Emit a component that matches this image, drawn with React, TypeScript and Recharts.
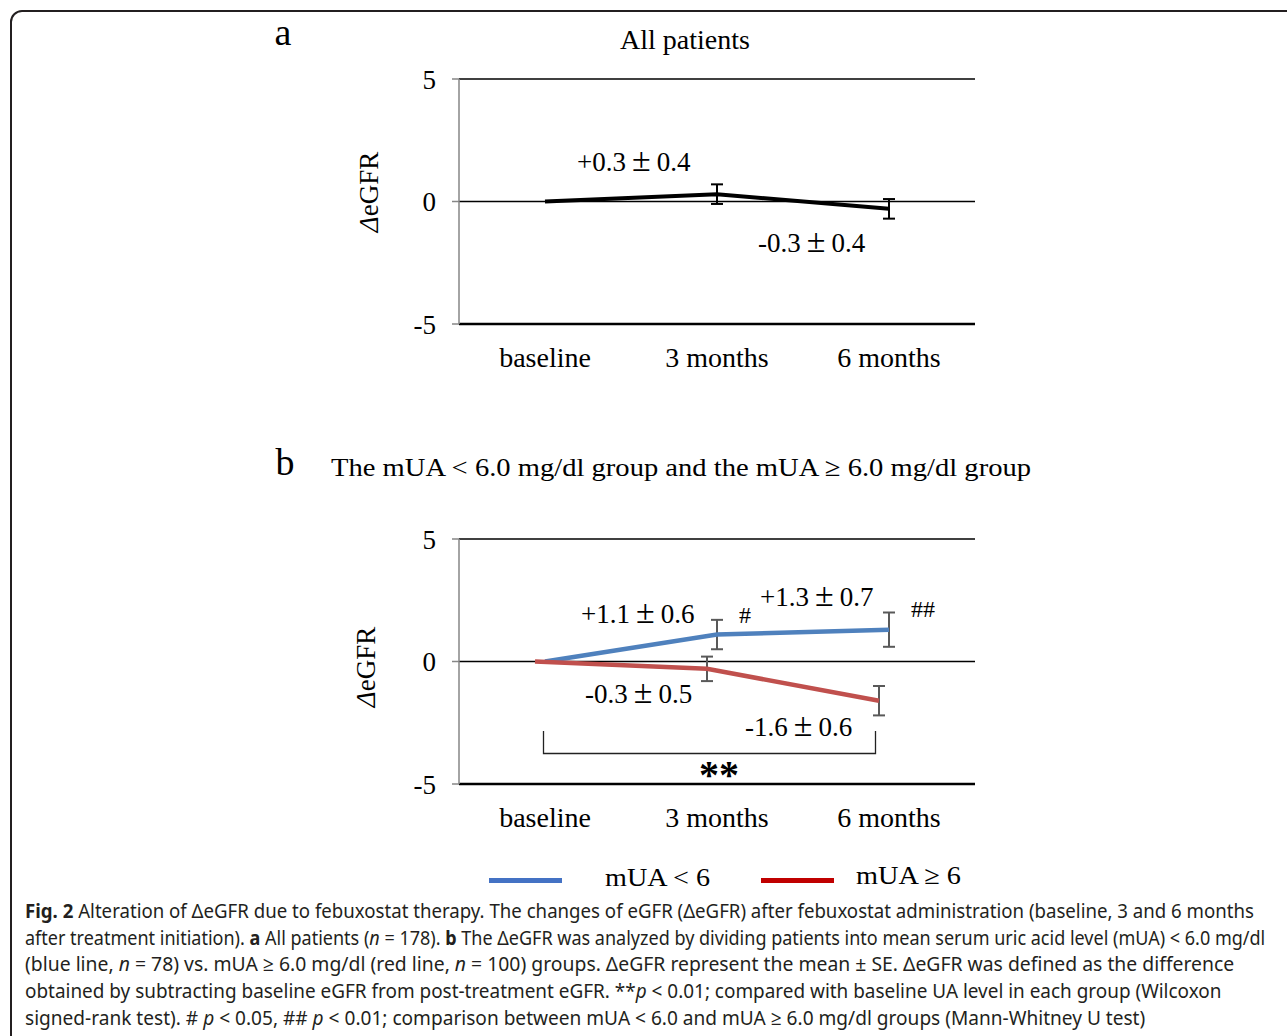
import { useLayoutEffect, useRef, useState } from "react";
import { LineChart, Line, XAxis, YAxis, CartesianGrid, ErrorBar, ReferenceLine } from "recharts";

const categories = ["baseline", "3 months", "6 months"];
const yTicks = [-5, 0, 5];

// a: all patients
const allMean = [0, 0.3, -0.3];
const allSe = [null, 0.4, 0.4];

// b: mUA < 6 (blue) and mUA >= 6 (red)
const lowMean = [0, 1.1, 1.3];
const lowSe = [null, 0.6, 0.7];
const highMean = [0, -0.3, -1.6];
const highSe = [null, 0.5, 0.6];

const rows = categories.map((name, i) => ({
  name,
  all: allMean[i],
  allSe: allSe[i],
  low: lowMean[i],
  lowSe: lowSe[i],
  high: highMean[i],
  highSe: highSe[i],
}));

const SERIF = '"Liberation Serif", "Times New Roman", serif';
const SANS = '"Noto Sans", "Open Sans", sans-serif';
const TEXT = "#231f20";

const signed = (v: number) => `${v > 0 ? "+" : ""}${v.toFixed(1)}`;

const xTick = { fill: "#000", fontSize: 28, fontFamily: SERIF };
const yTick = { fill: "#000", fontSize: 27, fontFamily: SERIF };
const chartMargin = { top: 79, right: 312, bottom: 36, left: 399 };

const ValueLabel = ({ x, y, mean, se }: { x: number; y: number; mean: number; se: number }) => (
  <text x={x} y={y} fontSize={27} fontFamily={SERIF} fill="#000">
    <tspan>{signed(mean)}</tspan>
    <tspan dx={6} fontSize={34}>±</tspan>
    <tspan dx={6}>{se.toFixed(1)}</tspan>
  </text>
);

const YLabel = ({ x, y }: { x: number; y: number }) => (
  <text transform={`translate(${x},${y}) rotate(-90)`} textAnchor="middle" fontSize={27} fontFamily={SERIF} fill="#000">
    <tspan fontStyle="italic">Δ</tspan>eGFR
  </text>
);

const captionLines = [
  { w: 1229, parts: [["b", "Fig. 2"], ["", " Alteration of ΔeGFR due to febuxostat therapy. The changes of eGFR (ΔeGFR) after febuxostat administration (baseline, 3 and 6 months"]] },
  { w: 1240, parts: [["", "after treatment initiation). "], ["b", "a"], ["", " All patients ("], ["i", "n"], ["", " = 178). "], ["b", "b"], ["", " The ΔeGFR was analyzed by dividing patients into mean serum uric acid level (mUA) < 6.0 mg/dl"]] },
  { w: 1209, parts: [["", "(blue line, "], ["i", "n"], ["", " = 78) vs. mUA ≥ 6.0 mg/dl (red line, "], ["i", "n"], ["", " = 100) groups. ΔeGFR represent the mean ± SE. ΔeGFR was defined as the difference"]] },
  { w: 1196, parts: [["", "obtained by subtracting baseline eGFR from post-treatment eGFR. **"], ["i", "p"], ["", " < 0.01; compared with baseline UA level in each group (Wilcoxon"]] },
  { w: 1120, parts: [["", "signed-rank test). # "], ["i", "p"], ["", " < 0.05, ## "], ["i", "p"], ["", " < 0.01; comparison between mUA < 6.0 and mUA ≥ 6.0 mg/dl groups (Mann-Whitney U test)"]] },
];

// squeeze each caption line to the width it has in the figure
function CaptionLine({ top, w, parts }: { top: number; w: number; parts: string[][] }) {
  const ref = useRef<HTMLDivElement>(null);
  const [k, setK] = useState(1);
  useLayoutEffect(() => {
    if (ref.current) setK(w / ref.current.offsetWidth);
  }, [w]);
  return (
    <div
      ref={ref}
      style={{
        position: "absolute",
        left: 25,
        top,
        whiteSpace: "nowrap",
        fontFamily: SANS,
        fontSize: 20,
        lineHeight: "20px",
        color: TEXT,
        transform: `scaleX(${k})`,
        transformOrigin: "0 0",
      }}
    >
      {parts.map(([kind, t], j) => (
        <span key={j} style={{ fontWeight: kind === "b" ? 700 : 400, fontStyle: kind === "i" ? "italic" : "normal" }}>
          {t}
        </span>
      ))}
    </div>
  );
}

export default function App() {
  return (
    <div style={{ position: "absolute", left: 0, top: 0, width: 1287, height: 1036, overflow: "hidden", background: "#fff" }}>
      <div
        style={{
          position: "absolute",
          left: 10,
          top: 10,
          width: 1400,
          height: 1200,
          border: `2px solid ${TEXT}`,
          borderRadius: 12,
          boxSizing: "border-box",
        }}
      />

      {/* a: all patients */}
      <div style={{ position: "absolute", left: 0, top: 0 }}>
        <LineChart width={1287} height={400} data={rows} margin={chartMargin}>
          <CartesianGrid vertical={false} stroke="#000" strokeWidth={1.3} />
          <XAxis
            dataKey="name"
            axisLine={false}
            tickLine={false}
            tickSize={0}
            tickMargin={23}
            height={40}
            interval={0}
            padding={{ left: 86, right: 86 }}
            tick={xTick}
          />
          <YAxis
            domain={[-5, 5]}
            ticks={yTicks}
            width={60}
            axisLine={{ stroke: "#868686", strokeWidth: 1.5 }}
            tickLine={{ stroke: "#868686", strokeWidth: 1.5 }}
            tickSize={7}
            tickMargin={16}
            tick={yTick}
          />
          <ReferenceLine y={-5} stroke="#000" strokeWidth={2.5} />
          <Line dataKey="all" stroke="#000" strokeWidth={4} dot={false} isAnimationActive={false}>
            <ErrorBar dataKey="allSe" width={6} stroke="#000" strokeWidth={2} isAnimationActive={false} />
          </Line>
        </LineChart>
      </div>

      {/* b: mUA groups */}
      <div style={{ position: "absolute", left: 0, top: 460 }}>
        <LineChart width={1287} height={400} data={rows} margin={chartMargin}>
          <CartesianGrid vertical={false} stroke="#000" strokeWidth={1.3} />
          <XAxis
            dataKey="name"
            axisLine={false}
            tickLine={false}
            tickSize={0}
            tickMargin={23}
            height={40}
            interval={0}
            padding={{ left: 86, right: 86 }}
            tick={xTick}
          />
          <XAxis xAxisId="r" dataKey="name" hide padding={{ left: 76, right: 96 }} />
          <YAxis
            domain={[-5, 5]}
            ticks={yTicks}
            width={60}
            axisLine={{ stroke: "#868686", strokeWidth: 1.5 }}
            tickLine={{ stroke: "#868686", strokeWidth: 1.5 }}
            tickSize={7}
            tickMargin={16}
            tick={yTick}
          />
          <ReferenceLine y={-5} stroke="#000" strokeWidth={2.5} />
          <Line dataKey="low" stroke="#4f81bd" strokeWidth={4.5} dot={false} isAnimationActive={false}>
            <ErrorBar dataKey="lowSe" width={6} stroke="#595959" strokeWidth={2} isAnimationActive={false} />
          </Line>
          <Line xAxisId="r" dataKey="high" stroke="#c0504d" strokeWidth={4.5} dot={false} isAnimationActive={false}>
            <ErrorBar dataKey="highSe" width={6} stroke="#595959" strokeWidth={2} isAnimationActive={false} />
          </Line>
        </LineChart>
      </div>

      <svg width={1287} height={1036} style={{ position: "absolute", left: 0, top: 0, pointerEvents: "none" }}>
        {/* titles */}
        <text x={283} y={45} textAnchor="middle" fontSize={38} fontFamily={SERIF} fill="#000">a</text>
        <text x={685} y={49} textAnchor="middle" fontSize={28} fontFamily={SERIF} fill="#000">All patients</text>
        <text x={285} y={475} textAnchor="middle" fontSize={38} fontFamily={SERIF} fill="#000">b</text>
        <text x={331} y={476} fontSize={26} fontFamily={SERIF} fill="#000" textLength={700} lengthAdjust="spacingAndGlyphs">
          The mUA &lt; 6.0 mg/dl group and the mUA ≥ 6.0 mg/dl group
        </text>

        <YLabel x={378} y={192} />
        <YLabel x={375} y={667} />

        {/* value labels a */}
        <ValueLabel x={577} y={171} mean={allMean[1]} se={allSe[1] as number} />
        <ValueLabel x={758} y={252} mean={allMean[2]} se={allSe[2] as number} />

        {/* value labels b */}
        <ValueLabel x={581} y={623} mean={lowMean[1]} se={lowSe[1] as number} />
        <ValueLabel x={760} y={606} mean={lowMean[2]} se={lowSe[2] as number} />
        <ValueLabel x={585} y={703} mean={highMean[1]} se={highSe[1] as number} />
        <ValueLabel x={745} y={736} mean={highMean[2]} se={highSe[2] as number} />
        <text x={745} y={623} textAnchor="middle" fontSize={24} fontFamily={SERIF} fill="#000">#</text>
        <text x={923} y={617} textAnchor="middle" fontSize={24} fontFamily={SERIF} fill="#000">##</text>

        {/* significance bracket */}
        <path d="M543.5 731 V753.5 H875.5 V731" fill="none" stroke="#222" strokeWidth={1.3} />
        <text x={719} y={788} textAnchor="middle" fontSize={40} fontWeight="bold" fontFamily={SERIF} fill="#000">**</text>

        {/* legend */}
        <line x1={489} x2={562} y1={880.5} y2={880.5} stroke="#4472c4" strokeWidth={5} />
        <text x={605} y={886} fontSize={26} fontFamily={SERIF} fill="#000" textLength={105} lengthAdjust="spacingAndGlyphs">mUA &lt; 6</text>
        <line x1={761} x2={834} y1={880.5} y2={880.5} stroke="#c00000" strokeWidth={5} />
        <text x={856} y={884} fontSize={26} fontFamily={SERIF} fill="#000" textLength={105} lengthAdjust="spacingAndGlyphs">mUA ≥ 6</text>
      </svg>

      {/* caption */}
      {captionLines.map((ln, i) => (
        <CaptionLine key={i} top={901 + i * 26.7} w={ln.w} parts={ln.parts} />
      ))}
    </div>
  );
}
